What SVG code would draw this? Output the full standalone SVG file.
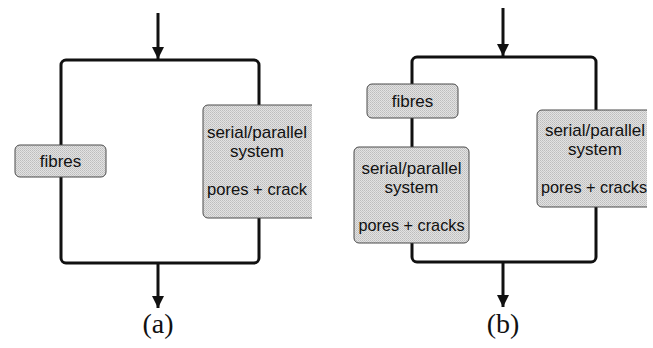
<svg xmlns="http://www.w3.org/2000/svg" width="653" height="348" viewBox="0 0 653 348">
<defs>
<style>
.frame{fill:none;stroke:#111;stroke-width:3}
.wire{stroke:#111;stroke-width:3;fill:none}
.box{fill:url(#stip);stroke:#4a4a4a;stroke-width:1}
.lbl{font-family:"Liberation Sans",Arial,sans-serif;font-size:17px;fill:#111;text-anchor:middle}
.cap{font-family:"Liberation Serif","Times New Roman",serif;font-size:28px;fill:#111;text-anchor:middle}
</style>
<pattern id="stip" x="0" y="0" width="2" height="2" patternUnits="userSpaceOnUse">
<rect width="2" height="2" fill="#e2e2e2"/>
<rect width="1" height="1" fill="#bdbdbd"/>
<rect x="1" y="1" width="1" height="1" fill="#c8c8c8"/>
</pattern>
<marker id="ah" viewBox="0 0 12 12" refX="12" refY="6" markerWidth="12" markerHeight="12" markerUnits="userSpaceOnUse" orient="auto">
<path d="M0,0 L12,6 L0,12 Z" fill="#111"/>
</marker>
<clipPath id="clipA"><rect x="0" y="0" width="312" height="348"/></clipPath>
<clipPath id="clipB"><rect x="0" y="0" width="647" height="348"/></clipPath>
</defs>
<g id="connectors">
<rect class="frame" x="61" y="60" width="198" height="203" rx="5"/>
<line class="wire" x1="158" y1="13" x2="158" y2="59" marker-end="url(#ah)"/>
<line class="wire" x1="158" y1="263" x2="158" y2="308" marker-end="url(#ah)"/>
<rect class="frame" x="412" y="57" width="184" height="205" rx="5"/>
<line class="wire" x1="503" y1="8" x2="503" y2="56" marker-end="url(#ah)"/>
<line class="wire" x1="503" y1="262" x2="503" y2="307" marker-end="url(#ah)"/>
</g>
<g id="a-fibres">
<rect class="box" x="15" y="145" width="91" height="32" rx="5"/>
<text class="lbl" x="60.5" y="167">fibres</text>
</g>
<g id="a-serial" clip-path="url(#clipA)">
<rect class="box" x="203" y="105" width="120" height="113" rx="5"/>
<text class="lbl" x="257" y="138">serial/parallel</text>
<text class="lbl" x="257" y="157">system</text>
<text class="lbl" x="257" y="195" textLength="100" lengthAdjust="spacingAndGlyphs">pores + crack</text>
</g>
<g id="b-fibres">
<rect class="box" x="367" y="84" width="91" height="34" rx="5"/>
<text class="lbl" x="412.5" y="107">fibres</text>
</g>
<g id="b-serial-left">
<rect class="box" x="354" y="147" width="115" height="96" rx="5"/>
<text class="lbl" x="411.5" y="174">serial/parallel</text>
<text class="lbl" x="411.5" y="193">system</text>
<text class="lbl" x="411.5" y="231" textLength="106" lengthAdjust="spacingAndGlyphs">pores + cracks</text>
</g>
<g id="b-serial-right" clip-path="url(#clipB)">
<rect class="box" x="537" y="110" width="120" height="97" rx="5"/>
<text class="lbl" x="595" y="136">serial/parallel</text>
<text class="lbl" x="595" y="155">system</text>
<text class="lbl" x="594" y="193" textLength="106" lengthAdjust="spacingAndGlyphs">pores + cracks</text>
</g>
<g id="captions">
<text class="cap" x="158" y="333">(a)</text>
<text class="cap" x="503" y="333">(b)</text>
</g>
</svg>
